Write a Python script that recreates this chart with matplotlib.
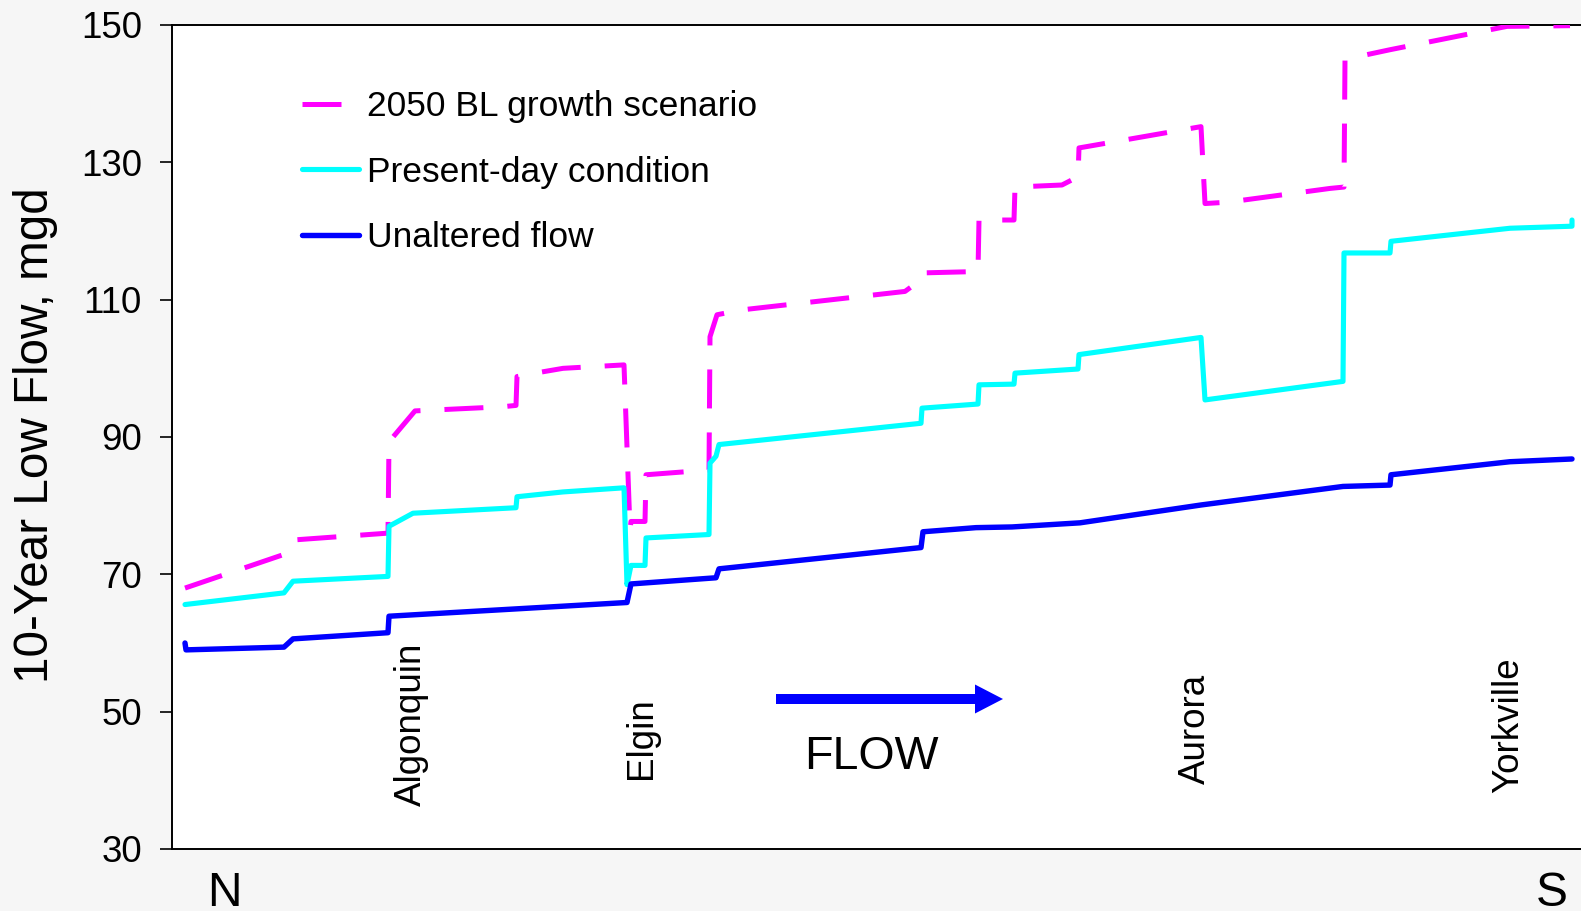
import matplotlib
matplotlib.use('Agg')
import matplotlib.pyplot as plt
from matplotlib.patches import FancyArrow

plt.rcParams['font.family'] = ['Liberation Sans', 'DejaVu Sans']

# distance along the river (arbitrary units, north -> south) and 10-year low flow (mgd)
unaltered_x = [13, 14, 112, 121, 216, 217, 455, 459, 544, 547, 749, 751, 804, 840, 908,
               1029, 1171, 1218, 1219, 1338, 1400]
unaltered_y = [60.0, 59.0, 59.4, 60.6, 61.5, 63.9, 65.9, 68.6, 69.5, 70.8, 73.9, 76.2, 76.8,
               76.9, 77.5, 80.1, 82.8, 83.0, 84.5, 86.4, 86.8]

present_x = [13, 112, 121, 216, 217, 241, 344, 345, 391, 452, 455, 459, 473, 474, 537, 538,
             544, 547, 749, 750, 806, 807, 842, 843, 906, 907, 1029, 1033, 1171, 1172, 1218,
             1219, 1338, 1400, 1400]
present_y = [65.6, 67.3, 69.0, 69.7, 77.0, 78.9, 79.7, 81.3, 82.0, 82.6, 68.5, 71.3, 71.3,
             75.3, 75.8, 86.2, 87.2, 88.9, 92.0, 94.2, 94.8, 97.6, 97.7, 99.3, 99.9, 102.0,
             104.5, 95.4, 98.1, 116.8, 116.8, 118.5, 120.4, 120.7, 121.6]

growth_x = [13, 112, 121, 216, 217, 243, 330, 344, 345, 355, 391, 452, 458, 459, 473, 474,
            537, 538, 545, 569, 733, 749, 751, 806, 807, 842, 843, 890, 906, 907, 915, 1029,
            1033, 1056, 1158, 1172, 1173, 1218, 1335, 1398]
growth_y = [68.0, 72.9, 75.0, 76.0, 89.3, 93.8, 94.4, 94.6, 98.8, 99.1, 100.0, 100.5, 76.5,
            77.7, 77.7, 84.5, 85.2, 104.6, 107.8, 108.5, 111.2, 112.9, 113.9, 114.1, 121.6,
            121.6, 126.4, 126.7, 127.9, 132.1, 132.3, 135.2, 124.0, 124.2, 126.2, 126.4,
            145.0, 146.4, 149.8, 149.9]

series_labels = ['2050 BL growth scenario', 'Present-day condition', 'Unaltered flow']
series_colors = ['#FF00FF', '#00FFFF', '#0000FF']

place_names = ['Algonquin', 'Elgin', 'Aurora', 'Yorkville']
place_x = [239, 469, 1023, 1337]
place_y = [36.2, 40.2, 39.5, 38.2]

y_ticks = [30, 50, 70, 90, 110, 130, 150]

W, H = 1581, 911
fig = plt.figure(figsize=(W / 100, H / 100), dpi=100)
fig.patch.set_facecolor('#f6f6f6')
ax = fig.add_axes([172 / W, 62 / H, 1409 / W, 824 / H])
ax.set_facecolor('white')

l_growth, = ax.plot(growth_x, growth_y, color=series_colors[0], lw=3.6,
                    dashes=(7.8, 4.8), dash_capstyle='butt', solid_joinstyle='miter',
                    label=series_labels[0], zorder=3)
l_present, = ax.plot(present_x, present_y, color=series_colors[1], lw=3.7,
                     solid_capstyle='round', solid_joinstyle='round',
                     label=series_labels[1], zorder=3)
l_unalt, = ax.plot(unaltered_x, unaltered_y, color=series_colors[2], lw=3.9,
                   solid_capstyle='round', solid_joinstyle='round',
                   label=series_labels[2], zorder=3)

ax.set_xlim(0, 1409)
ax.set_ylim(30, 150)
ax.set_yticks(y_ticks)
ax.tick_params(axis='y', direction='out', length=8.6, width=1.2, pad=13, labelsize=26.5)
ax.set_xticks([])
for s in ['left', 'top', 'bottom']:
    ax.spines[s].set_linewidth(1.4)
    ax.spines[s].set_color('black')
ax.spines['right'].set_visible(False)

fig.text(36 / W, 1 - 435 / H, '10-Year Low Flow, mgd', rotation=90, fontsize=34.3,
         ha='center', va='center')

leg = ax.legend(handles=[l_growth, l_present, l_unalt], loc='upper left',
                bbox_to_anchor=((302 - 172) / 1409, 1 - (90 - 25) / 824),
                frameon=False, fontsize=25.5, handlelength=1.62, handletextpad=0.22,
                labelspacing=0.92, borderpad=0, borderaxespad=0)

for name, px, py in zip(place_names, place_x, place_y):
    ax.text(px, py, name, rotation=90, fontsize=26.5, ha='center', va='bottom')

ax.text(632, 41.6, 'FLOW', fontsize=33.5, ha='left', va='baseline')
ax.add_patch(FancyArrow((776 - 172) / 1409, (849 - 699) / 824, (1003 - 776) / 1409, 0,
                        width=10 / 824, head_width=29 / 824, head_length=28 / 1409,
                        length_includes_head=True, color='#0000FF', lw=0,
                        transform=ax.transAxes, zorder=4))

fig.text(207 / W, (H - 906) / H, 'N', fontsize=34.5, ha='left', va='baseline')
fig.text(1536 / W, (H - 906) / H, 'S', fontsize=34.5, ha='left', va='baseline')

fig.savefig('out.png', dpi=100, facecolor=fig.get_facecolor())
